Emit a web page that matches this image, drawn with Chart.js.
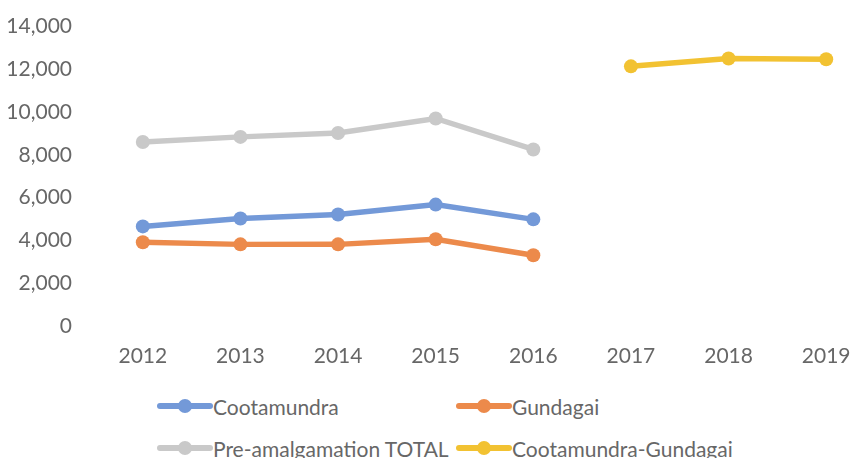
<!DOCTYPE html>
<html lang="en">
<head>
<meta charset="UTF-8">
<title>Population</title>
<script src="https://cdn.jsdelivr.net/npm/chart.js@4.4.1/dist/chart.umd.min.js"></script>
<style>
    html, body { margin: 0; padding: 0; background: #fff; }
    body { width: 859px; height: 458px; overflow: hidden; font-family: Lato, "Open Sans", sans-serif; position: relative; }
    #wrap { position: absolute; left: 0; top: 0; width: 882px; height: 379px; }
    #legende { position: absolute; left: 157px; top: 394px; width: 700px; display: grid;
               grid-template-columns: 299px 360px; row-gap: 18px; color: #676767; font-size: 21px; }
    .item { display: flex; align-items: center; height: 24px; white-space: nowrap; }
    .marque { position: relative; width: 56px; height: 24px; margin-right: 0; }
    .marque .trait { position: absolute; left: 0; right: 0; top: 9px; height: 6px; border-radius: 3px; }
    .marque .point { position: absolute; left: 21px; top: 5px; width: 14px; height: 14px; border-radius: 50%; }
</style>
</head>
<body>
<div id="wrap"><canvas id="graphique" width="882" height="379"></canvas></div>
<div id="legende"></div>

<script>
    // données
    let annees = ['2012', '2013', '2014', '2015', '2016', '2017', '2018', '2019'];
    let cootamundra = [4650, 5020, 5210, 5670, 4980, null, null, null];
    let gundagai = [3910, 3810, 3810, 4050, 3300, null, null, null];
    let totalAvant = [8600, 8840, 9020, 9700, 8250, null, null, null];
    let fusion = [null, null, null, null, null, 12140, 12510, 12470];

    let couleurs = ['#7399d8', '#ec8a4b', '#c9c9c9', '#f2c232'];
    let noms = ['Cootamundra', 'Gundagai', 'Pre-amalgamation TOTAL', 'Cootamundra-Gundagai'];
    let series = [cootamundra, gundagai, totalAvant, fusion];

    let datasets = series.map((valeurs, i) => {
        return {
            label: noms[i],
            data: valeurs,
            borderColor: couleurs[i],
            backgroundColor: couleurs[i],
            borderWidth: 5.5,
            pointRadius: 7,
            pointBorderWidth: 0,
            fill: false,
            spanGaps: false
        };
    });

    // le canvas déborde un peu à droite (la zone de tracé d'origine est coupée)
    let content = document.querySelector('#graphique').getContext('2d');
    let myChart = new Chart(content, {
        type: 'line',
        data: { labels: annees, datasets: datasets },
        options: {
            responsive: false,
            animation: false,
            layout: { padding: { top: -4, right: 0, left: 0, bottom: 0 } },
            plugins: { legend: { display: false }, tooltip: { enabled: false } },
            scales: {
                x: {
                    offset: true,
                    grid: { display: false },
                    border: { display: false },
                    ticks: { color: '#676767', font: { family: 'Lato', size: 21 }, padding: 10, maxRotation: 0 }
                },
                y: {
                    min: 0,
                    max: 14000,
                    grid: { display: false },
                    border: { display: false },
                    afterFit: scale => { scale.width = 94; },
                    ticks: {
                        stepSize: 2000,
                        color: '#676767',
                        font: { family: 'Lato', size: 21 },
                        padding: 14,
                        callback: v => v.toLocaleString('en-US')
                    }
                }
            }
        }
    });

    // légende en html, sur deux colonnes
    let legende = document.querySelector('#legende');
    datasets.forEach(ds => {
        let item = document.createElement('div');
        item.className = 'item';
        item.innerHTML = '<span class="marque"><span class="trait" style="background:' + ds.borderColor +
            '"></span><span class="point" style="background:' + ds.borderColor + '"></span></span>' +
            '<span>' + ds.label + '</span>';
        legende.appendChild(item);
    });
</script>
</body>
</html>
